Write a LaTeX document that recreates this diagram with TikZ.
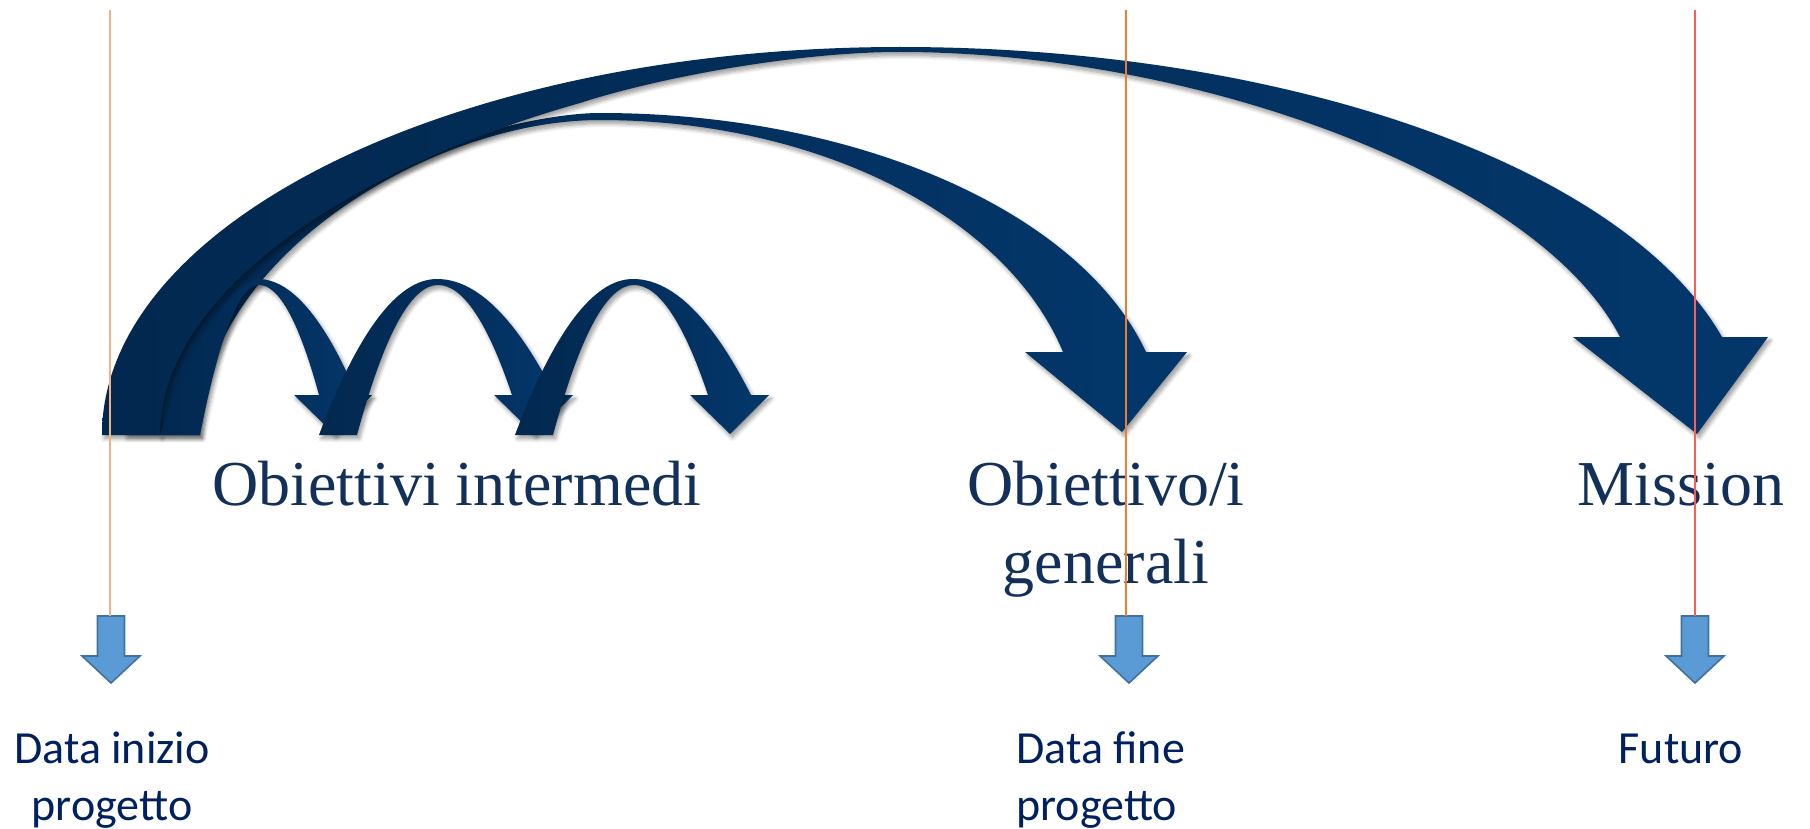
\documentclass[tikz,border=0pt]{standalone}
\usepackage{fontspec}
\setmainfont{Liberation Serif}
\newfontfamily\calibfont{Carlito}
\usetikzlibrary{shadows.blur}
\definecolor{navyD}{HTML}{02284F}
\definecolor{navyL}{HTML}{03376B}
\definecolor{txtnavy}{HTML}{12305A}
\definecolor{lblnavy}{HTML}{002060}
\definecolor{arrfill}{HTML}{5B9BD5}
\definecolor{arrdraw}{HTML}{41719C}
\definecolor{lineA}{HTML}{F4B183}
\definecolor{lineB}{HTML}{ED7D31}
\definecolor{lineC}{HTML}{FF5B5B}
\begin{document}
\begin{tikzpicture}[x=0.5pt,y=-0.5pt,
  bigarc/.style={left color=navyD, right color=navyL, draw=none,
    blur shadow={shadow xshift=1.2pt, shadow yshift=-1.8pt, shadow blur radius=2pt, shadow blur steps=8, shadow opacity=40}},
  tlab/.style={inner sep=0pt, text=txtnavy, font=\fontsize{32}{39}\selectfont},
  blab/.style={inner sep=0pt, text=lblnavy, font=\calibfont\fontsize{23}{28.5}\selectfont},
  downarrow/.style={fill=arrfill, draw=arrdraw, line width=0.8pt, line join=miter},
  timeline/.style={line width=1.3pt}]
\useasboundingbox (0,0) rectangle (1810,829);
% arrow to Obiettivo/i generali
\path[bigarc] (125,435) .. controls (125,230) and (480,113) .. (600,113)
  .. controls (855.9,113) and (1080,211.1) .. (1146,352)
  -- (1187,352) -- (1122,432) -- (1025,352) -- (1063,352)
  .. controls (1006,215) and (816.4,120) .. (600,120)
  .. controls (430,120) and (200,260) .. (200,435) -- cycle;
% arrow to Mission
\path[bigarc] (102,435) .. controls (102,220.7) and (459.3,47) .. (900,47)
  .. controls (1286.7,47) and (1624.3,166.2) .. (1722,337)
  -- (1768,337) -- (1697,434) -- (1573,337) -- (1620,337)
  .. controls (1540,180) and (1200,52) .. (900,52)
  .. controls (790,52) and (650,80) .. (580,103)
  .. controls (360,165) and (160,290) .. (160,435) -- cycle;
% intermediate arrows
\path[bigarc] (160,435) .. controls (192.7,331) and (241.7,279) .. (258,279)
  .. controls (291,279) and (324,317.7) .. (357,395)
  -- (372,395) -- (334,434) -- (294,395) -- (319,395)
  .. controls (299,321.7) and (279,285) .. (259,285)
  .. controls (239.3,285) and (219.7,335) .. (200,435) -- cycle;
\path[bigarc] (319,435) .. controls (358.3,331) and (397.7,279) .. (437,279)
  .. controls (476.3,279) and (515.7,317.7) .. (555,395)
  -- (573,395) -- (534,434) -- (494,395) -- (512,395)
  .. controls (487.3,321.7) and (462.7,285) .. (438,285)
  .. controls (411,285) and (384,335) .. (357,435) -- cycle;
\path[bigarc] (515,435) .. controls (554.3,331) and (593.7,279) .. (633,279)
  .. controls (672.3,279) and (711.7,317.7) .. (751,395)
  -- (769,395) -- (730,434) -- (690,395) -- (708,395)
  .. controls (683.3,321.7) and (658.7,285) .. (634,285)
  .. controls (607,285) and (580,335) .. (553,435) -- cycle;
% labels (base anchor = baseline of the last line)
\node[tlab, anchor=base west] (oi) at (212,505) {Obiettivi intermedi};
\node[tlab, anchor=base, align=center] (og) at (1106,583) {Obiettivo/i\\generali};
\node[tlab, anchor=base] (mi) at (1681,505) {Mission};
\node[blab, anchor=base, align=center] (d1) at (112,820) {Data inizio\\progetto};
\node[blab, anchor=base west, align=left] (d2) at (1016,820) {Data fine\\progetto};
\node[blab, anchor=base] (d3) at (1681,763) {Futuro};
% blue down arrows
\foreach \xx in {111,1129,1695}{
  \path[downarrow] (\xx-13.5,616) -- (\xx+13.5,616) -- (\xx+13.5,656) -- (\xx+29,656)
    -- (\xx,683) -- (\xx-29,656) -- (\xx-13.5,656) -- cycle;
}
% time lines
\coordinate (t1a) at (110,10);  \coordinate (t1b) at (110,616);
\coordinate (t2a) at (1126,10); \coordinate (t2b) at (1126,616);
\coordinate (t3a) at (1695,10); \coordinate (t3b) at (1695,616);
\draw[timeline, lineA] (t1a) -- (t1b);
\draw[timeline, lineB] (t2a) -- (t2b);
\draw[timeline, lineC] (t3a) -- (t3b);
\end{tikzpicture}
\end{document}
